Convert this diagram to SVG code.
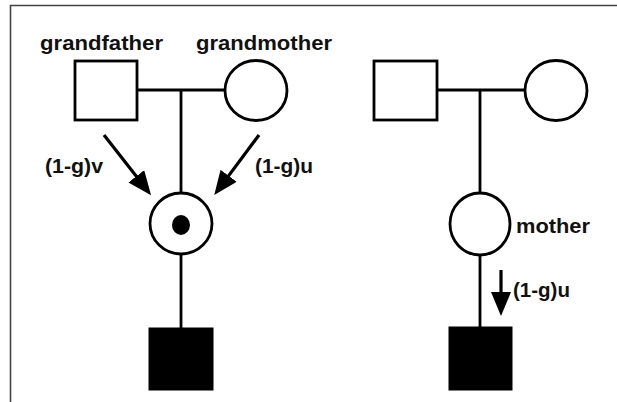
<svg xmlns="http://www.w3.org/2000/svg" width="617" height="402" viewBox="0 0 617 402">
<defs>
<style>
.n{fill:#fff;stroke:#000;stroke-width:2.8}
.f{fill:#000;stroke:#000;stroke-width:1}
.l{stroke:#000;stroke-width:2.8;fill:none}
.a{stroke:#000;stroke-width:3.2;fill:none;marker-end:url(#ah)}
.t{font-family:"Liberation Sans",Arial,Helvetica,sans-serif;font-weight:bold;font-size:21px;fill:#111}
</style>
<marker id="ah" markerUnits="userSpaceOnUse" markerWidth="24" markerHeight="20" refX="6" refY="10" orient="auto">
<path d="M0,0 L24,10 L0,20 z" fill="#000"/>
</marker>
</defs>
<rect width="617" height="402" fill="#fff"/>
<path d="M10.5,402 V5.5 H617" fill="none" stroke="#444" stroke-width="1.6"/>
<g id="connectors">
<path class="l" d="M137,90 H225 M181,90 V193 M181,254 V328"/>
<path class="l" d="M437,90 H525 M480,90 V193 M480,255 V327"/>
<line class="a" x1="104" y1="135" x2="140" y2="181"/>
<line class="a" x1="259" y1="135" x2="225" y2="180.6"/>
<line class="a" x1="501" y1="270" x2="501" y2="298"/>
<text class="t" x="45" y="173" textLength="58" lengthAdjust="spacingAndGlyphs">(1-g)v</text>
<text class="t" x="255" y="173" textLength="58" lengthAdjust="spacingAndGlyphs">(1-g)u</text>
<text class="t" x="513" y="297" textLength="57" lengthAdjust="spacingAndGlyphs">(1-g)u</text>
</g>
<g id="grandfather">
<rect class="n" x="75" y="61" width="62" height="59"/>
<text class="t" x="40" y="50" textLength="123" lengthAdjust="spacingAndGlyphs">grandfather</text>
</g>
<g id="grandmother">
<ellipse class="n" cx="256" cy="90.5" rx="31" ry="30"/>
<text class="t" x="196" y="50" textLength="136" lengthAdjust="spacingAndGlyphs">grandmother</text>
</g>
<g id="carrier">
<ellipse class="n" cx="181" cy="223.5" rx="31" ry="30.5"/>
<ellipse cx="181" cy="225" rx="9" ry="10" fill="#000"/>
</g>
<g id="son-left">
<rect class="f" x="149" y="328" width="64" height="62"/>
</g>
<g id="grandfather-right">
<rect class="n" x="374" y="61" width="63" height="59"/>
</g>
<g id="grandmother-right">
<ellipse class="n" cx="556" cy="90.5" rx="31" ry="30"/>
</g>
<g id="mother">
<ellipse class="n" cx="480" cy="224" rx="30" ry="31"/>
<text class="t" x="516" y="233" textLength="74" lengthAdjust="spacingAndGlyphs">mother</text>
</g>
<g id="son-right">
<rect class="f" x="449" y="327" width="63" height="63"/>
</g>
</svg>
